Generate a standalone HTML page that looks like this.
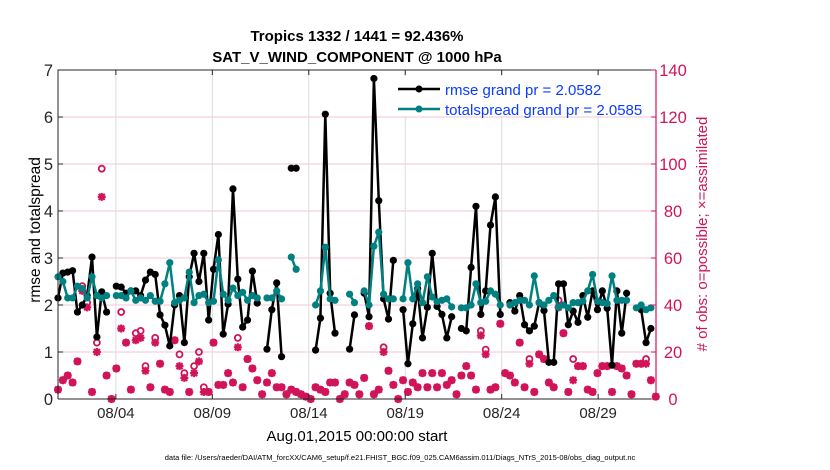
<!DOCTYPE html>
<html><head><meta charset="utf-8"><style>
html,body{margin:0;padding:0;background:#fff;}
svg{display:block;font-family:"Liberation Sans",Arial,sans-serif;}
</style></head><body>
<svg id="chart" width="830" height="470" viewBox="0 0 830 470" xmlns="http://www.w3.org/2000/svg">
<rect x="0" y="0" width="830" height="470" fill="#fff"/>
<text x="357" y="41" text-anchor="middle" font-size="15" font-weight="bold">Tropics 1332 / 1441 = 92.436%</text>
<text x="357" y="62" text-anchor="middle" font-size="15" font-weight="bold">SAT_V_WIND_COMPONENT @ 1000 hPa</text>
<g id="grid"></g>
<g id="marks"></g>
<g id="axes"></g>
<g id="legend">
<rect x="393" y="76" width="255" height="40" fill="#fff"/>
<g>
<line x1="398" y1="89" x2="440" y2="89" stroke="#000" stroke-width="2.5"/>
<circle cx="419" cy="89" r="3.5" fill="#000"/>
<text x="445" y="95" font-size="15" fill="#0b3cff">rmse grand pr = 2.0582</text>
</g>
<g>
<line x1="398" y1="109" x2="440" y2="109" stroke="#008080" stroke-width="2.5"/>
<circle cx="419" cy="109" r="3.5" fill="#008080"/>
<text x="445" y="115" font-size="15" fill="#0b3cff">totalspread grand pr = 2.0585</text>
</g>
</g>
<text x="0" y="0" transform="translate(40,230) rotate(-90)" text-anchor="middle" font-size="15.5">rmse and totalspread</text>
<text x="0" y="0" transform="translate(707,234) rotate(-90)" text-anchor="middle" font-size="15" fill="#d1145a"># of obs: o=possible; ×=assimilated</text>
<text x="357" y="441" text-anchor="middle" font-size="15">Aug.01,2015 00:00:00 start</text>
<text x="400" y="460" text-anchor="middle" font-size="7.5">data file: /Users/raeder/DAI/ATM_forcXX/CAM6_setup/f.e21.FHIST_BGC.f09_025.CAM6assim.011/Diags_NTrS_2015-08/obs_diag_output.nc</text>
</svg>
<script>
const xTickLabels = ["08/04","08/09","08/14","08/19","08/24","08/29"];
const xTickDays = [3,8,13,18,23,28];
const leftTicks = [0,1,2,3,4,5,6,7];
const rightTicks = [0,20,40,60,80,100,120,140];
const rmse = [2.15,2.68,2.7,2.73,1.85,2.0,2.2,3.02,1.32,2.28,1.85,null,
2.4,2.38,2.25,2.3,2.3,2.2,2.53,2.7,2.65,1.79,1.57,1.13,2.0,2.2,1.2,2.6,3.1,2.5,
3.1,1.68,2.76,3.5,1.38,2.02,4.47,2.55,1.53,1.68,2.72,2.04,
null,1.06,1.9,2.47,0.9,null,4.91,4.91,null,null,null,1.04,1.72,6.06,2.25,1.4,null,null,1.06,1.79,
null,2.25,1.75,6.82,4.22,2.13,1.7,2.95,null,1.9,0.75,1.6,2.35,1.3,1.95,3.1,1.97,1.8,1.3,1.75,
null,1.5,1.45,2.8,4.1,1.8,2.3,3.7,4.3,1.8,null,
2.05,1.87,2.2,1.58,1.45,1.55,2.05,1.88,0.78,0.78,2.45,2.45,1.58,1.87,1.63,2.2,1.74,2.3,1.9,2.3,1.93,0.72,2.3,1.4,2.25,
null,null,1.9,1.2,1.5,null];
const totalspread = [2.6,2.5,2.15,2.15,2.4,2.35,2.15,2.6,2.2,2.15,2.2,null,
2.2,2.2,2.15,2.3,2.1,2.15,2.1,2.2,2.08,2.08,2.45,2.9,2.05,2.1,2.15,2.7,2.05,2.2,
2.23,2.05,2.08,2.96,2.23,2.1,2.36,2.2,2.27,2.1,2.2,2.15,
null,2.15,2.15,2.3,2.13,null,3.02,2.76,null,null,null,2.0,2.3,3.23,2.13,2.1,null,null,2.23,2.05,
null,2.3,2.0,3.25,3.55,2.23,2.13,2.13,null,2.13,2.9,2.13,2.45,2.05,2.6,2.17,2.07,2.1,2.13,1.96,
null,1.94,1.94,2.0,2.45,2.05,2.08,2.3,2.23,2.0,null,
2.0,2.05,2.1,2.1,2.0,2.62,2.05,2.0,2.1,2.2,1.95,2.0,1.94,2.05,2.05,2.08,2.3,2.65,2.08,2.05,2.03,2.62,2.1,2.1,2.1,
null,1.94,2.0,1.9,1.94,null];
const obsAssimilated = [4,8,10,7,16,46,39,3,20,86,10,0,13,30,24,4,25,26,12,5,24,15,4,3,25,14,9,3,11,16,3,
3,24,6,6,11,7,22,5,17,13,8,2,7,11,5,5,2,4,3,2,1,0,5,4,3,7,7,0,2,7,6,
2,9,31,2,4,20,12,6,0,8,3,7,5,11,5,11,5,11,6,8,2,10,14,10,4,27,19,4,5,32,11,
10,7,24,5,15,3,19,17,7,5,39,28,3,8,14,14,4,3,11,14,14,3,14,13,10,2,15,15,15,8,1];
const obsPossible = [4,8,10,7,16,48,41,3,24,98,10,0,13,37,24,4,28,29,14,5,26,15,4,3,25,19,11,3,14,20,5,
3,24,6,6,11,7,26,5,17,13,8,2,7,11,5,5,2,4,3,2,1,0,5,4,3,7,7,0,2,7,6,
2,9,31,2,4,22,12,6,0,8,3,7,5,11,5,11,5,11,6,8,2,10,14,10,4,29,21,4,5,32,11,
10,7,24,5,17,3,19,17,7,5,42,28,3,17,14,14,4,3,11,14,14,3,14,13,10,2,15,15,17,8,1];

const NS='http://www.w3.org/2000/svg';
const X0=58, X1=656, Y0=399, Y1=70;
const PINK='#d1145a';
function xDay(d){return X0+(X1-X0)*d/31;}
function xIdx(i){return X0+i*4.86;}
function yL(v){return Y0-(Y0-Y1)*v/7;}
function yR(v){return Y0-(Y0-Y1)*v/140;}
function mk(tag,attrs,parent){const e=document.createElementNS(NS,tag);for(const k in attrs)e.setAttribute(k,attrs[k]);parent.appendChild(e);return e;}
const grid=document.getElementById('grid'), marks=document.getElementById('marks'), axes=document.getElementById('axes');

leftTicks.forEach(v=>{if(v>0&&v<7){const l=mk('line',{x1:X0,x2:X1,y1:yL(v),y2:yL(v),stroke:'#f3c6d8','stroke-width':1},grid);

}});
xTickDays.forEach(d=>{const l=mk('line',{x1:xDay(d),x2:xDay(d),y1:Y1,y2:Y0,stroke:'#dcdcdc','stroke-width':1},grid);

});

obsPossible.forEach((v,i)=>{const c=mk('circle',{cx:xIdx(i),cy:yR(v),r:3,fill:'none',stroke:PINK,'stroke-width':1.8},marks);

});
obsAssimilated.forEach((v,i)=>{const x=xIdx(i),y=yR(v);
const g=mk('g',{},marks);


mk('path',{d:`M${x-4} ${y}H${x+4}M${x} ${y-4}V${y+4}M${x-3} ${y-3}L${x+3} ${y+3}M${x-3} ${y+3}L${x+3} ${y-3}`,stroke:PINK,'stroke-width':2.2},g);
mk('circle',{cx:x,cy:y,r:2.3,fill:PINK},g);});

function series(data,color,name){
let d='',pen=false;
data.forEach((v,i)=>{if(v===null){pen=false;return;}d+=(pen?'L':'M')+xIdx(i).toFixed(1)+' '+yL(v).toFixed(1);pen=true;});
const p=mk('path',{d:d,fill:'none',stroke:color,'stroke-width':2.5,'stroke-linejoin':'round'},marks);


data.forEach((v,i)=>{if(v===null)return;const c=mk('circle',{cx:xIdx(i),cy:yL(v),r:3.6,fill:color},marks);

});
}
series(rmse,'#000','rmse');
series(totalspread,'#008080','totalspread');

const f1=mk('path',{d:`M${X0} ${Y0}V${Y1}H${X1}`,fill:'none',stroke:'#262626','stroke-width':1},axes);


const f2=mk('line',{x1:X0,x2:X1,y1:Y0,y2:Y0,stroke:'#262626','stroke-width':1},axes);


const f3=mk('line',{x1:X1,x2:X1,y1:Y1,y2:Y0,stroke:PINK,'stroke-width':1.2},axes);



leftTicks.forEach(v=>{mk('line',{x1:X0,x2:X0+5,y1:yL(v),y2:yL(v),stroke:'#262626'},axes);
const t=mk('text',{x:53,y:yL(v)+6,'text-anchor':'end','font-size':16.5,fill:'#262626'},axes);t.textContent=v;

});
rightTicks.forEach(v=>{mk('line',{x1:X1-5,x2:X1,y1:yR(v),y2:yR(v),stroke:PINK},axes);
const t=mk('text',{x:673,y:yR(v)+6,'text-anchor':'middle','font-size':16.5,fill:PINK},axes);t.textContent=v;

});
xTickLabels.forEach((lab,k)=>{const x=xDay(xTickDays[k]);
mk('line',{x1:x,x2:x,y1:Y0,y2:Y0-5,stroke:'#262626'},axes);
mk('line',{x1:x,x2:x,y1:Y1,y2:Y1+5,stroke:'#262626'},axes);
const t=mk('text',{x:x,y:Y0+19,'text-anchor':'middle','font-size':15,fill:'#262626'},axes);t.textContent=lab;

});
</script>
</body></html>
